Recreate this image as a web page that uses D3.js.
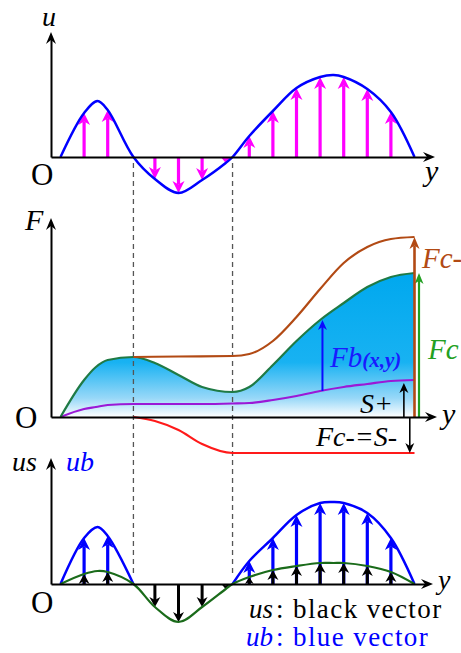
<!DOCTYPE html>
<html>
<head>
<meta charset="utf-8">
<script src="https://cdn.jsdelivr.net/npm/d3@7/dist/d3.min.js"></script>
<style>
  body { margin: 0; background: #fff; }
  svg { display: block; }
</style>
</head>
<body>
<div id="chart"></div>
<script>
// ---- data (positions along y) ----
// top panel: u(y)
const tU   = [0, 1, 1.57, 2, 3.09, 4, 5, 6, 7, 7.29, 8, 9, 10, 11, 11.57, 12, 13, 14, 15];
const uVal = [0, 44, 56, 47, 0, -22, -36, -23, -6, 0, 21, 46, 69, 80, 82, 80, 68, 45, 0];
// bottom panel: us (green, black vectors) and ub (blue, blue vectors)
const usVal = [0, 10, 13, 12, 0, -23, -38, -23, -5, 0, 7, 14, 18, 21, 21, 21, 18, 12, 0];
const ubVal = [0, 46, 57, 48, 0, null, null, null, null, 0, 23, 46, 69, 81, 82, 81, 71, 46, 0];
// which knots carry a vector
const arrowT = [1, 2, 4, 5, 6, 7, 8, 9, 10, 11, 12, 13, 14];

// middle panel: forces
const tF     = [0, 1, 1.5, 2, 3.09, 4, 5, 6, 7.29, 8, 9, 10, 11, 12, 13, 14, 15];
const fbVal  = [0, 37, 50, 57, 60, 54, 42, 30, 25, 30, 52, 76, 97, 114, 130, 140, 144];
const spVal  = [0, 8, 10, 12, 13, 13, 13, 13, 13.5, 14, 17, 21, 26, 30, 33, 36, 37];
const tFcm   = [3.09, 5, 7.29, 8, 9, 10, 11, 12, 13, 14, 15];
const fcmVal = [60, 60.5, 61, 63, 76, 100, 128, 154, 170, 178, 180];
const tSm    = [3.09, 4, 5, 6, 7.29, 9, 12, 15];
const smVal  = [0, -4, -13, -27, -36, -36, -36, -36];
// annotation vectors
const fbArrow = {t: 11.1, from: 26, to: 97};
const spArrow = {t: 14.55, to: 34};
const smArrow = {t: 14.8, to: -36};
const dashT = [3.09, 7.29];

// ---- layout ----
const W = 461, H = 653;
const FONT = "Liberation Serif";
const svg = d3.select("#chart").append("svg").attr("width", W).attr("height", H)
  .attr("font-family", FONT);

const x = d3.scaleLinear().domain([0, 15]).range([60.5, 414.5]);

const yU = d3.scaleLinear().domain([0, 100]).range([157, 57]);
const yF = d3.scaleLinear().domain([0, 100]).range([417, 317]);
const yS = d3.scaleLinear().domain([0, 100]).range([584, 484]);

const MAG = "#ff00ff", BLUE = "#0000ff", GRN = "#1f7a45", GRN3 = "#1a6b1a",
      PUR = "#9b19d6", BRN = "#b24a14", RED = "#ff1a1a", GRNA = "#22a022";

// gradient for the Fb area
const defs = svg.append("defs");
const grad = defs.append("linearGradient").attr("id", "fbgrad")
  .attr("gradientUnits", "userSpaceOnUse")
  .attr("x1", 0).attr("x2", 0).attr("y1", yF(144)).attr("y2", yF(0));
grad.append("stop").attr("offset", 0).attr("stop-color", "#00a8ee");
grad.append("stop").attr("offset", 0.62).attr("stop-color", "#18b2f2");
grad.append("stop").attr("offset", 0.87).attr("stop-color", "#98d8f8");
grad.append("stop").attr("offset", 1).attr("stop-color", "#ffffff");

function pts(ts, vs) { return ts.map((t, i) => ({t: t, v: vs[i]})); }
function at(vals, t) { return vals[tU.indexOf(t)]; }

// arrow: shaft + stealth head, tip at (px, y1)
function arrow(g, px, y0, y1, color, sw, L, hw) {
  const dir = y1 < y0 ? -1 : 1;
  const len = Math.abs(y1 - y0);
  if (len < L) { L = len; hw = hw * 0.8; }
  const notch = y1 - dir * L * 0.7;
  if (Math.abs(notch - y0) > 0.5)
    g.append("line").attr("x1", px).attr("x2", px).attr("y1", y0).attr("y2", notch)
      .attr("stroke", color).attr("stroke-width", sw);
  g.append("path")
    .attr("d", `M${px},${y1} L${px - hw},${y1 - dir * L} L${px},${notch} L${px + hw},${y1 - dir * L} Z`)
    .attr("fill", color);
}

function axes(g, y, base, topVal, tipX) {
  const xa = d3.scaleLinear().domain([0, 1]).range([51, tipX - 6]);
  g.append("g").attr("transform", `translate(0,${base})`)
    .call(d3.axisBottom(xa).tickValues([]).tickSizeOuter(0))
    .call(a => a.select(".domain").attr("stroke", "#000").attr("stroke-width", 2));
  g.append("path")
    .attr("d", `M${tipX},${base} L${tipX - 12},${base - 5} L${tipX - 8},${base} L${tipX - 12},${base + 5} Z`)
    .attr("fill", "#000");
  const top = y(topVal);
  const ya = d3.scaleLinear().domain([0, 1]).range([base, top + 6]);
  g.append("g").attr("transform", "translate(51,0)")
    .call(d3.axisLeft(ya).tickValues([]).tickSizeOuter(0))
    .call(a => a.select(".domain").attr("stroke", "#000").attr("stroke-width", 2));
  g.append("path")
    .attr("d", `M51,${top} L46,${top + 12} L51,${top + 8} L56,${top + 12} Z`)
    .attr("fill", "#000");
}

function label(g, px, py, size, txt, color, italic) {
  return g.append("text").attr("x", px).attr("y", py).attr("font-size", size)
    .attr("font-family", FONT)
    .attr("font-style", italic ? "italic" : "normal")
    .attr("fill", color || "#000").text(txt);
}

const lineU = d3.line().x(d => x(d.t)).y(d => yU(d.v)).curve(d3.curveCatmullRom.alpha(0.5));
const lineS = d3.line().defined(d => d.v != null).x(d => x(d.t)).y(d => yS(d.v)).curve(d3.curveCatmullRom.alpha(0.5));
const lineF = d3.line().x(d => x(d.t)).y(d => yF(d.v)).curve(d3.curveMonotoneX);

// ---- panel 2 fill (under everything) ----
const fbPts = pts(tF, fbVal);
svg.append("path").datum(fbPts)
  .attr("d", d3.area().x(d => x(d.t)).y0(yF(0)).y1(d => yF(d.v)).curve(d3.curveMonotoneX))
  .attr("fill", "url(#fbgrad)");

// ---- dashed guides ----
svg.append("g").selectAll("line").data(dashT).enter().append("line")
  .attr("x1", d => x(d)).attr("x2", d => x(d))
  .attr("y1", 163).attr("y2", 574)
  .attr("stroke", "#555").attr("stroke-width", 1.3).attr("stroke-dasharray", "5,4");

// ---- panel 1 ----
const p1 = svg.append("g");
arrowT.forEach(t => arrow(p1, x(t), yU(0), yU(at(uVal, t)), MAG, 3.2, 12, 6));
p1.append("path").datum(pts(tU, uVal)).attr("d", lineU)
  .attr("fill", "none").attr("stroke", BLUE).attr("stroke-width", 2.5);
axes(p1, yU, 157, 125, 435);
label(p1, 42, 26, 28, "u", "#000", true);
label(p1, 425, 181, 30, "y", "#000", true);
label(p1, 31, 185, 31, "O");

// ---- panel 2 ----
const p2 = svg.append("g");
p2.append("path").datum(pts(tF, spVal)).attr("d", lineF)
  .attr("fill", "none").attr("stroke", PUR).attr("stroke-width", 2.2);
p2.append("path").datum(fbPts).attr("d", lineF)
  .attr("fill", "none").attr("stroke", GRN).attr("stroke-width", 2.2);
p2.append("path").datum(pts(tFcm, fcmVal)).attr("d", lineF)
  .attr("fill", "none").attr("stroke", BRN).attr("stroke-width", 2.2);
p2.append("path").datum(pts(tSm, smVal)).attr("d", lineF)
  .attr("fill", "none").attr("stroke", RED).attr("stroke-width", 2.2);
// vectors
arrow(p2, x(fbArrow.t), yF(fbArrow.from), yF(fbArrow.to), "#0a0aff", 2, 10, 4.5);
arrow(p2, x(spArrow.t), yF(0), yF(spArrow.to), "#000", 1.6, 10, 4.5);
arrow(p2, x(smArrow.t), yF(0), yF(smArrow.to), "#000", 1.6, 10, 4.5);
arrow(p2, x(15) + 4.5, yF(0), yF(fbVal[fbVal.length - 1]), GRNA, 2.2, 11, 4.5);
arrow(p2, x(15), yF(0), yF(fcmVal[fcmVal.length - 1]), BRN, 2.6, 12, 5);
axes(p2, yF, 417, 199, 437);
label(p2, 25, 230, 30, "F", "#000", true);
label(p2, 15, 428, 31, "O");
label(p2, 442, 424, 30, "y", "#000", true);
label(p2, 422, 268, 29, "Fc-", BRN, true);
label(p2, 428, 359, 29, "Fc", GRNA, true);
const fbT = label(p2, 330, 367, 29, "", "#1a1aff", true);
fbT.append("tspan").text("Fb");
fbT.append("tspan").attr("font-weight", "bold").attr("font-size", 21).text("(x,y)");
label(p2, 360, 413, 28, "S+", "#000", true);
label(p2, 316, 446, 28, "Fc-=S-", "#000", true);

// ---- panel 3 ----
const p3 = svg.append("g");
arrowT.filter(t => at(ubVal, t) != null)
  .forEach(t => arrow(p3, x(t), yS(0), yS(at(ubVal, t)), BLUE, 3.2, 12, 6));
arrowT.forEach(t => arrow(p3, x(t), yS(0), yS(at(usVal, t)), "#000", 3, 10, 5.5));
p3.append("path").datum(pts(tU, ubVal)).attr("d", lineS)
  .attr("fill", "none").attr("stroke", BLUE).attr("stroke-width", 2.5);
p3.append("path").datum(pts(tU, usVal)).attr("d", lineS)
  .attr("fill", "none").attr("stroke", GRN3).attr("stroke-width", 2.2);
axes(p3, yS, 584, 126, 433);
label(p3, 12, 471, 28, "us", "#000", true);
label(p3, 66, 471, 28, "ub", BLUE, true);
label(p3, 438, 589, 28, "y", "#000", true);
label(p3, 31, 613, 31, "O");
// legend: italic symbol + roman text, second part placed after the measured first
[["us", ": black vector", "#000", 249, 618], ["ub", ": blue vector", BLUE, 246, 646]].forEach(r => {
  const a = label(p3, r[3], r[4], 27, r[0], r[2], true);
  const w = a.node().getComputedTextLength();
  label(p3, r[3] + w + 3, r[4], 27, r[1], r[2], false).attr("letter-spacing", 1.4);
});
</script>
</body>
</html>
